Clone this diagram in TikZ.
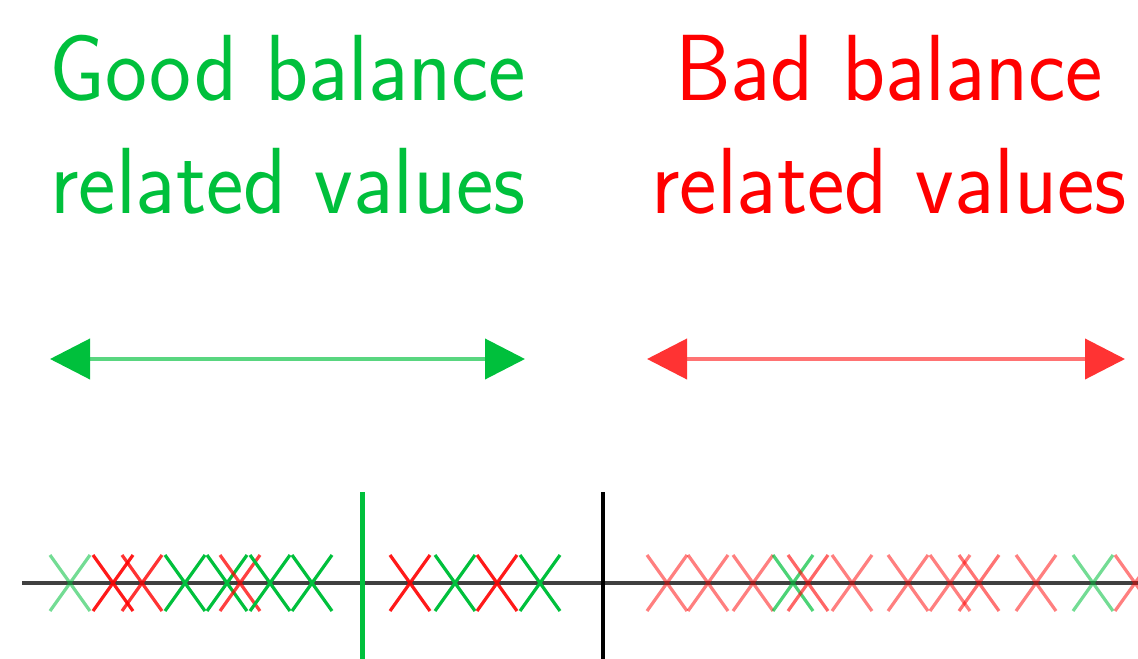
\documentclass[tikz,border=0pt]{standalone}
\usetikzlibrary{arrows.meta}
\definecolor{goodc}{HTML}{00C03C}
\definecolor{badc}{HTML}{FF0000}
\definecolor{axisc}{HTML}{404040}
\newcommand{\sq}[1]{\scalebox{0.948}[1]{#1}}
\begin{document}
\begin{tikzpicture}[x=0.5pt,y=-0.5pt,
  lbl/.style={font=\sffamily\fontsize{47}{56}\selectfont, inner sep=0pt, anchor=base},
  goodarrow/.style={draw=goodc!65!white, line width=2pt,
     {Triangle[length=20pt,width=20pt,color=goodc]}-{Triangle[length=20pt,width=20pt,color=goodc]}},
  badarrow/.style={draw=badc!55!white, line width=2pt,
     {Triangle[length=20pt,width=20pt,color=badc!80!white]}-{Triangle[length=20pt,width=20pt,color=badc!80!white]}},
  axisline/.style={draw=axisc, line width=2.3pt},
  xm/.style={line width=1.6pt}]
\useasboundingbox (0,0) rectangle (1138,658);
% titles
\node[lbl, text=goodc] (g1) at (288,100) {\sq{Good balance}};
\node[lbl, text=goodc] (g2) at (288,213) {\sq{related values}};
\node[lbl, text=badc] (b1) at (889,100) {\sq{Bad balance}};
\node[lbl, text=badc] (b2) at (889,213) {\sq{related values}};
% arrows
\coordinate (ga) at (50,359);
\coordinate (gb) at (525,359);
\coordinate (ba) at (647,359);
\coordinate (bb) at (1125,359);
\draw[goodarrow] (ga) -- (gb);
\draw[badarrow] (ba) -- (bb);
% axis
\coordinate (ax0) at (22,583);
\coordinate (ax1) at (1140,583);
\draw[axisline] (ax0) -- (ax1);
% crosses
\foreach \x/\c/\o in {70/goodc/0.55,113/badc/0.9,142/badc/0.8,185/goodc/1,227/goodc/1,240/badc/0.75,270/goodc/1,312/goodc/1,
  410/badc/0.9,455/goodc/1,497/badc/0.9,540/goodc/1,
  667/badc/0.5,708/badc/0.5,753/badc/0.5,793/goodc/0.7,808/badc/0.6,852/badc/0.5,908/badc/0.5,950/badc/0.5,979/badc/0.55,1036/badc/0.5,1093/goodc/0.55,1135/badc/0.5}{
  \draw[xm, draw=\c, draw opacity=\o] (\x-20,555) -- (\x+20,611) (\x-20,611) -- (\x+20,555);
}
% dividers
\coordinate (gv0) at (362,492);
\coordinate (gv1) at (362,660);
\coordinate (kv0) at (603,492);
\coordinate (kv1) at (603,660);
\draw[draw=goodc, line width=2.5pt] (gv0) -- (gv1);
\draw[draw=black, line width=1.6pt] (kv0) -- (kv1);
\end{tikzpicture}
\end{document}
